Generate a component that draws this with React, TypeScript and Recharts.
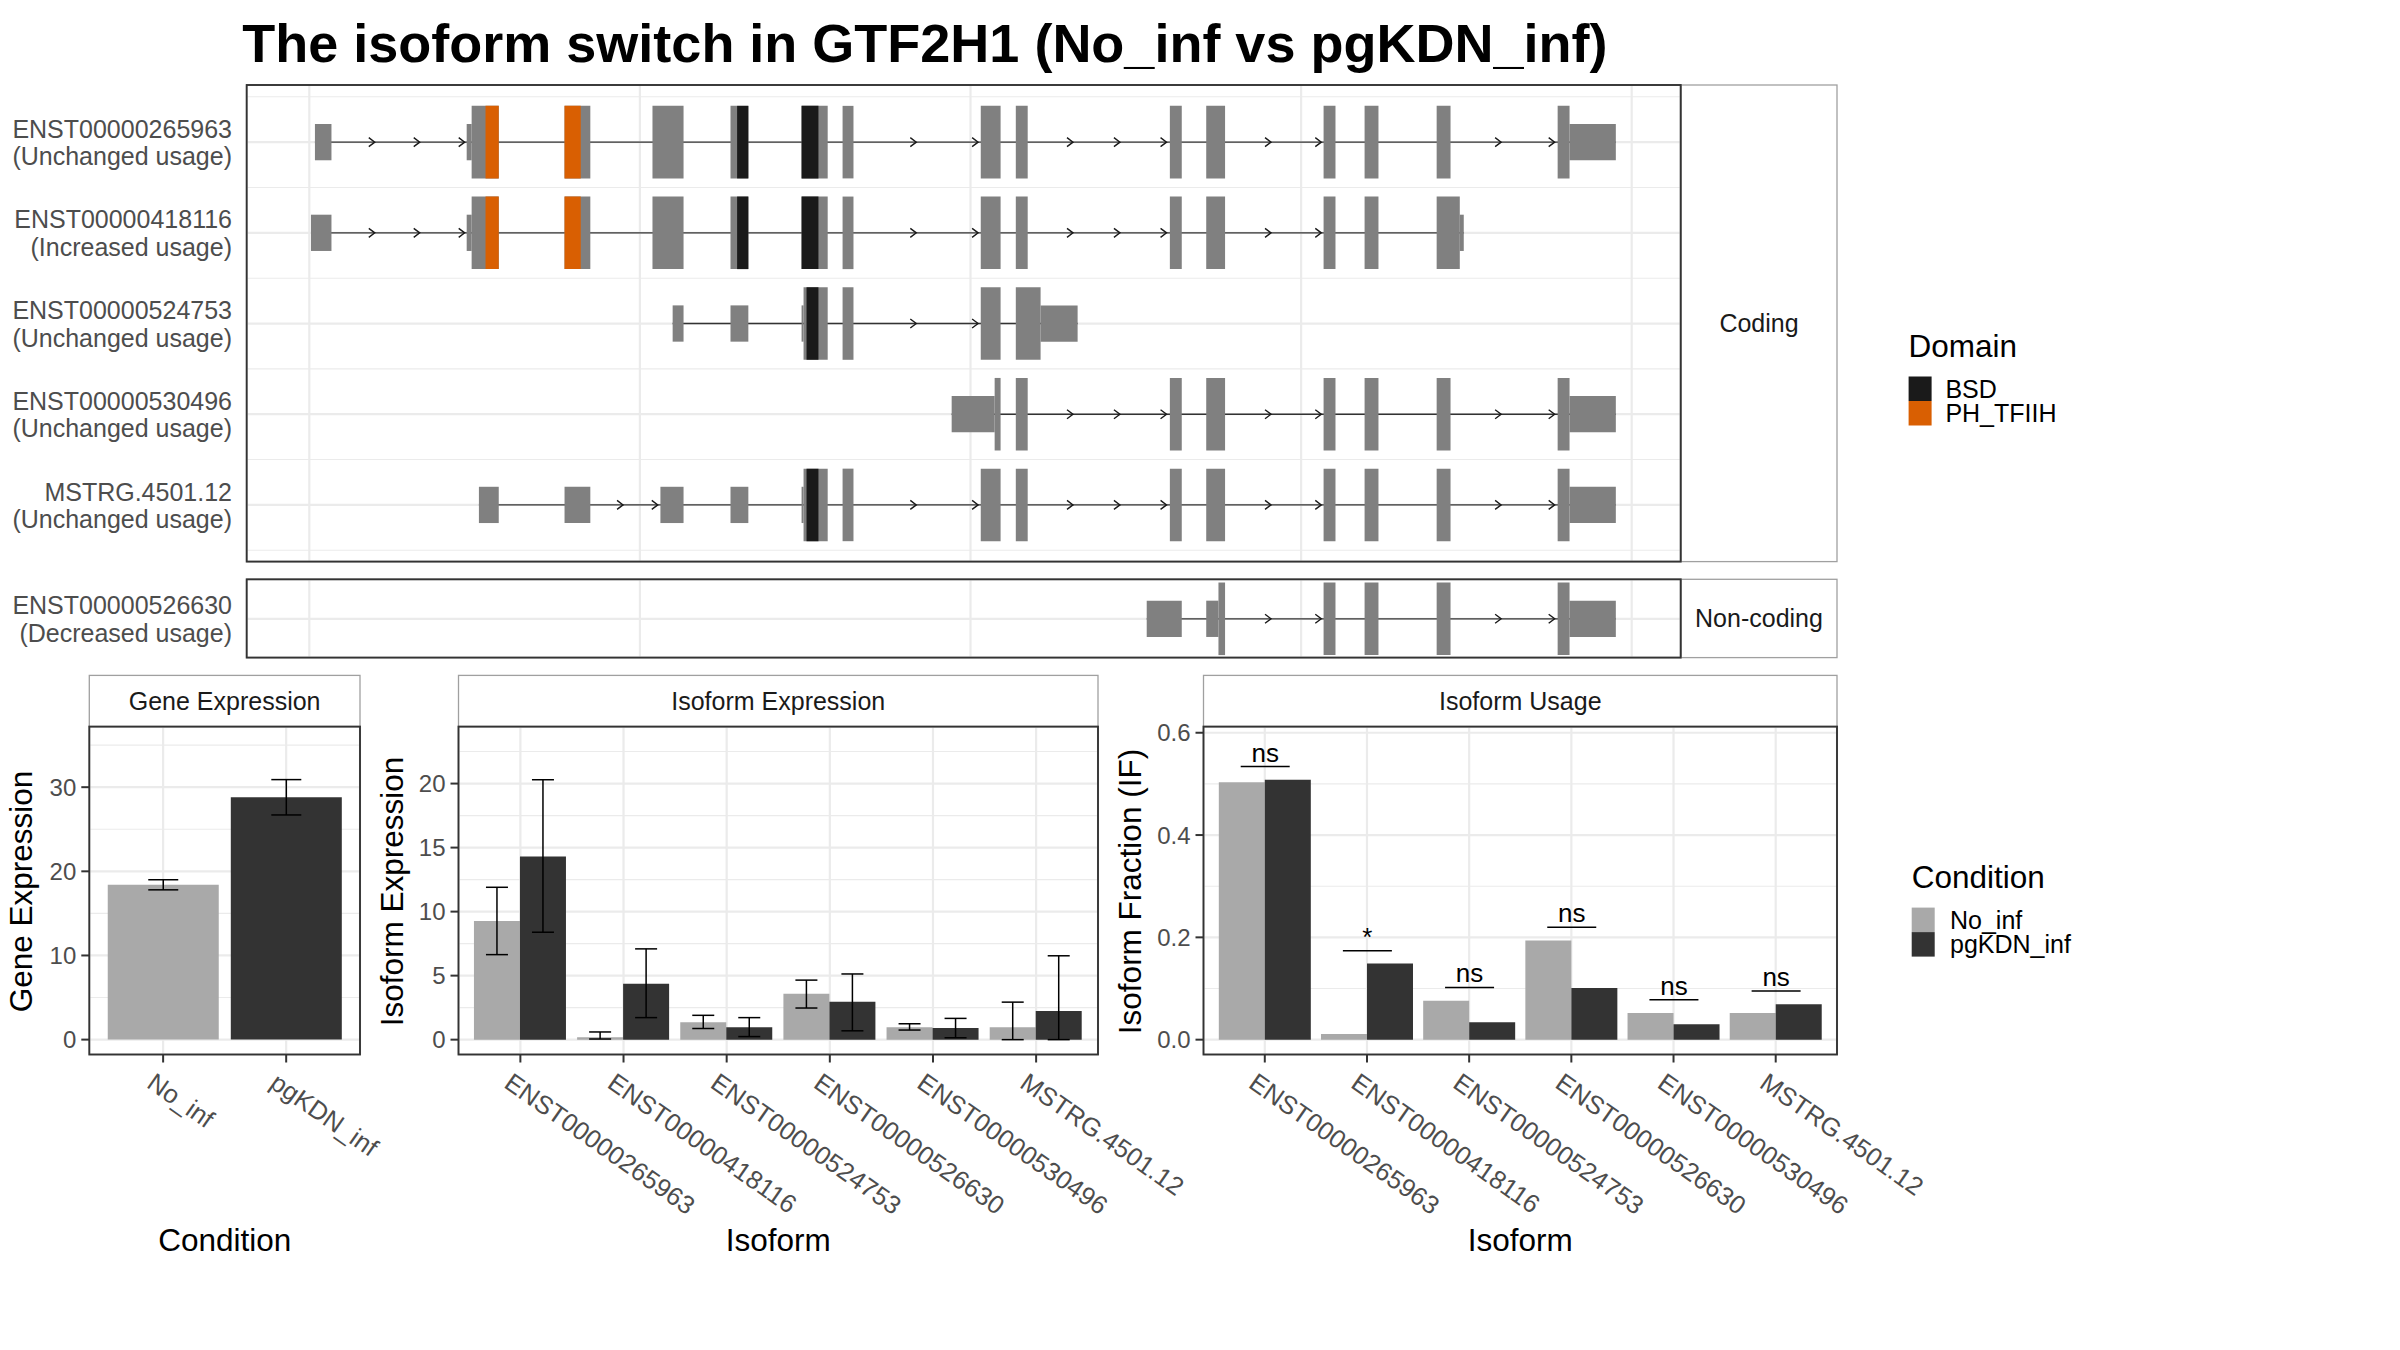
import React from 'react';
import {
  ComposedChart,
  BarChart,
  Bar,
  XAxis,
  YAxis,
  CartesianGrid,
  ReferenceArea,
  Scatter,
  ErrorBar,
  Cell,
} from 'recharts';

const FONT = '"Liberation Sans", Arial, Helvetica, sans-serif';

// ---------- transcript structures (kb from the first gridline) ----------
type Seg = [number, number, string];

const txIds = ['ENST00000265963', 'ENST00000418116', 'ENST00000524753', 'ENST00000530496', 'MSTRG.4501.12'];
const txUsage = ['Unchanged', 'Increased', 'Unchanged', 'Unchanged', 'Unchanged'];
const ncIds = ['ENST00000526630'];
const ncUsage = ['Decreased'];

const exons265963: Seg[] = [
  [0.17, 0.67, 'utr'], [4.76, 4.91, 'utr'], [4.91, 5.73, 'cds'], [7.72, 8.5, 'cds'], [10.38, 11.32, 'cds'],
  [12.74, 13.28, 'cds'], [14.89, 15.68, 'cds'], [16.13, 16.46, 'cds'], [20.31, 20.91, 'cds'], [21.37, 21.73, 'cds'],
  [26.03, 26.39, 'cds'], [27.13, 27.7, 'cds'], [30.68, 31.04, 'cds'], [31.92, 32.34, 'cds'], [34.1, 34.52, 'cds'],
  [37.76, 38.12, 'cds'], [38.12, 39.52, 'utr'],
];
const exons418116: Seg[] = [
  [0.05, 0.67, 'utr'], [4.76, 4.91, 'utr'], [4.91, 5.73, 'cds'], [7.72, 8.5, 'cds'], [10.38, 11.32, 'cds'],
  [12.74, 13.28, 'cds'], [14.89, 15.68, 'cds'], [16.13, 16.46, 'cds'], [20.31, 20.91, 'cds'], [21.37, 21.73, 'cds'],
  [26.03, 26.39, 'cds'], [27.13, 27.7, 'cds'], [30.68, 31.04, 'cds'], [31.92, 32.34, 'cds'], [34.1, 34.8, 'cds'],
  [34.8, 34.92, 'utr'],
];
const exons524753: Seg[] = [
  [10.99, 11.32, 'utr'], [12.74, 13.28, 'utr'], [14.89, 14.95, 'utr'], [14.95, 15.68, 'cds'], [16.13, 16.46, 'cds'],
  [20.31, 20.91, 'cds'], [21.37, 22.12, 'cds'], [22.12, 23.24, 'utr'],
];
const exons530496: Seg[] = [
  [19.43, 20.73, 'utr'], [20.73, 20.91, 'cds'], [21.37, 21.73, 'cds'], [26.03, 26.39, 'cds'], [27.13, 27.7, 'cds'],
  [30.68, 31.04, 'cds'], [31.92, 32.34, 'cds'], [34.1, 34.52, 'cds'], [37.76, 38.12, 'cds'], [38.12, 39.52, 'utr'],
];
const exonsMSTRG: Seg[] = [
  [5.13, 5.73, 'utr'], [7.72, 8.5, 'utr'], [10.62, 11.32, 'utr'], [12.74, 13.28, 'utr'], [14.89, 14.95, 'utr'],
  [14.95, 15.68, 'cds'], [16.13, 16.46, 'cds'], [20.31, 20.91, 'cds'], [21.37, 21.73, 'cds'], [26.03, 26.39, 'cds'],
  [27.13, 27.7, 'cds'], [30.68, 31.04, 'cds'], [31.92, 32.34, 'cds'], [34.1, 34.52, 'cds'], [37.76, 38.12, 'cds'],
  [38.12, 39.52, 'utr'],
];
const exons526630: Seg[] = [
  [25.33, 26.39, 'utr'], [27.13, 27.5, 'utr'], [27.5, 27.7, 'cds'], [30.68, 31.04, 'cds'], [31.92, 32.34, 'cds'],
  [34.1, 34.52, 'cds'], [37.76, 38.12, 'cds'], [38.12, 39.52, 'utr'],
];

const dom265963: Seg[] = [[5.33, 5.73, 'PH_TFIIH'], [7.72, 8.21, 'PH_TFIIH'], [12.94, 13.28, 'BSD'], [14.89, 15.4, 'BSD']];
const dom418116: Seg[] = [[5.33, 5.73, 'PH_TFIIH'], [7.72, 8.21, 'PH_TFIIH'], [12.94, 13.28, 'BSD'], [14.89, 15.4, 'BSD']];
const dom524753: Seg[] = [[15.04, 15.4, 'BSD']];
const dom530496: Seg[] = [];
const domMSTRG: Seg[] = [[15.04, 15.4, 'BSD']];

const arrows265963 = [1.98, 3.34, 4.7, 18.36, 20.23, 23.1, 24.52, 25.93, 29.09, 30.61, 36.05, 37.67];
const arrows418116 = [1.98, 3.34, 4.7, 18.36, 20.23, 23.1, 24.52, 25.93, 29.09, 30.61];
const arrows524753 = [18.36, 20.23];
const arrows530496 = [23.1, 24.52, 25.93, 29.09, 30.61, 36.05, 37.67];
const arrowsMSTRG = [9.49, 10.54, 18.36, 20.23, 23.1, 24.52, 25.93, 29.09, 30.61, 36.05, 37.67];
const arrows526630 = [29.09, 30.61, 36.05, 37.67];

const domainNames = ['BSD', 'PH_TFIIH'];
const domainColors = ['#1A1A1A', '#D95F02'];

const txMajor = [0, 10, 20, 30, 40];
const txMinor = [5, 15, 25, 35];

// ---------- expression / usage ----------
const conditions = ['No_inf', 'pgKDN_inf'];
const conditionColors = ['#A9A9A9', '#333333'];

const geneExpr = [18.4, 28.8];
const geneLow = [17.8, 26.7];
const geneHigh = [19.0, 30.9];
const geneTicks = [0, 10, 20, 30];
const geneMinor = [5, 15, 25, 35];

const isoforms = ['ENST00000265963', 'ENST00000418116', 'ENST00000524753', 'ENST00000526630', 'ENST00000530496', 'MSTRG.4501.12'];
const isoExprNo = [9.26, 0.18, 1.36, 3.59, 0.97, 0.97];
const isoExprNoLow = [6.64, 0.05, 0.87, 2.47, 0.75, 0.0];
const isoExprNoHigh = [11.9, 0.6, 1.9, 4.65, 1.24, 2.93];
const isoExprKd = [14.3, 4.37, 0.97, 2.96, 0.9, 2.23];
const isoExprKdLow = [8.39, 1.72, 0.24, 0.69, 0.15, 0.0];
const isoExprKdHigh = [20.3, 7.09, 1.72, 5.13, 1.66, 6.55];
const isoExprTicks = [0, 5, 10, 15, 20];
const isoExprMinor = [2.5, 7.5, 12.5, 17.5, 22.5];

const isoUsageNo = [0.503, 0.011, 0.076, 0.194, 0.052, 0.052];
const isoUsageKd = [0.508, 0.149, 0.034, 0.101, 0.03, 0.069];
const sigLevel = [0.534, 0.174, 0.102, 0.22, 0.078, 0.095];
const sigLabel = ['ns', '*', 'ns', 'ns', 'ns', 'ns'];
const usageTicks = [0, 0.2, 0.4, 0.6];
const usageMinor = [0.1, 0.3, 0.5];

const geneRows = conditions.map((cond, i) => ({
  cond,
  value: geneExpr[i],
  err: [geneExpr[i] - geneLow[i], geneHigh[i] - geneExpr[i]],
}));
const isoExprRows = isoforms.map((iso, i) => ({
  iso,
  no: isoExprNo[i],
  kd: isoExprKd[i],
  noErr: [isoExprNo[i] - isoExprNoLow[i], isoExprNoHigh[i] - isoExprNo[i]],
  kdErr: [isoExprKd[i] - isoExprKdLow[i], isoExprKdHigh[i] - isoExprKd[i]],
}));
const isoUsageRows = isoforms.map((iso, i) => ({
  iso,
  no: isoUsageNo[i],
  kd: isoUsageKd[i],
  sig: sigLevel[i],
  sigLabel: sigLabel[i],
}));

const GRID = '#EBEBEB';
const yTick = { fontSize: 24, fill: '#4D4D4D', fontFamily: FONT };
const tickLine = { stroke: '#333333', strokeWidth: 2 };

const Chevron = (props: any) => {
  const { cx, cy } = props;
  if (cx == null || cy == null) return <g />;
  return (
    <path
      d={`M${cx - 6},${cy - 4.5}L${cx},${cy}L${cx - 6},${cy + 4.5}`}
      fill="none"
      stroke="#1A1A1A"
      strokeWidth={1.4}
    />
  );
};

const RowLabel = (props: any) => {
  const { x, y, payload, ids, usage } = props;
  const i = Math.round(payload.value) - 1;
  if (!ids[i]) return <g />;
  return (
    <g>
      <text x={x} y={y - 4.4} textAnchor="end" fontSize={25} fill="#4D4D4D" fontFamily={FONT}>
        {ids[i]}
      </text>
      <text x={x} y={y + 23} textAnchor="end" fontSize={25} fill="#4D4D4D" fontFamily={FONT}>
        {`(${usage[i]} usage)`}
      </text>
    </g>
  );
};

const SlantTick = (props: any) => {
  const { x, y, payload } = props;
  return (
    <text
      transform={`translate(${x - 7},${y + 4}) rotate(35)`}
      dy="0.72em"
      textAnchor="start"
      fontSize={25.6}
      fill="#4D4D4D"
      fontFamily={FONT}
    >
      {payload.value}
    </text>
  );
};

const SigMark = (props: any) => {
  const { x, y, width, payload } = props;
  return (
    <g>
      <line x1={x} x2={x + width} y1={y} y2={y} stroke="#000" strokeWidth={1.5} />
      <text x={x + width / 2} y={y - 5} textAnchor="middle" fontSize={26} fontFamily={FONT} fill="#000">
        {payload.sigLabel}
      </text>
    </g>
  );
};

interface TxProps {
  ids: string[];
  usage: string[];
  exons: Seg[][];
  domains: Seg[][];
  arrows: number[][];
  yDomain: [number, number];
  yMinor: number[];
  height: number;
  top: number;
  bottom: number;
}

const X_DOMAIN: [number, number] = [-1.894, 41.482];

const TranscriptPanel = ({ ids, usage, exons, domains, arrows, yDomain, yMinor, height, top, bottom }: TxProps) => {
  const rows = ids.map((_, i) => i + 1);
  const arrowPts = arrows.flatMap((list, i) => list.map((x) => ({ x, y: i + 1 })));
  const minorY = yMinor.length ? yMinor : [yDomain[0]];
  return (
    <ComposedChart width={1690} height={height} margin={{ top, right: 9.3, bottom, left: 0 }}>
      <XAxis xAxisId="minor" type="number" domain={X_DOMAIN} ticks={txMinor} hide allowDataOverflow />
      <YAxis yAxisId="minor" type="number" domain={yDomain} ticks={minorY} hide reversed allowDataOverflow />
      <CartesianGrid
        xAxisId="minor"
        yAxisId="minor"
        stroke={GRID}
        strokeWidth={1.1}
        horizontal={yMinor.length > 0}
      />
      <XAxis dataKey="x" type="number" domain={X_DOMAIN} ticks={txMajor} hide allowDataOverflow />
      <YAxis
        dataKey="y"
        type="number"
        domain={yDomain}
        ticks={rows}
        interval={0}
        reversed
        allowDataOverflow
        width={246.7}
        axisLine={false}
        tickLine={false}
        tickSize={0}
        tickMargin={14.7}
        tick={(p: any) => <RowLabel {...p} ids={ids} usage={usage} />}
      />
      <CartesianGrid stroke={GRID} strokeWidth={2.2} />
      {exons.map((segs, i) => (
        <ReferenceArea
          key={`intron-${i}`}
          x1={Math.min(...segs.map((s) => s[0]))}
          x2={Math.max(...segs.map((s) => s[1]))}
          y1={i + 1 - 0.0075}
          y2={i + 1 + 0.0075}
          fill="#333333"
          fillOpacity={1}
          stroke="none"
        />
      ))}
      {exons.flatMap((segs, i) =>
        segs.map(([s, e, kind], j) => {
          const h = kind === 'cds' ? 0.4 : 0.2;
          return (
            <ReferenceArea
              key={`exon-${i}-${j}`}
              x1={s}
              x2={e}
              y1={i + 1 - h}
              y2={i + 1 + h}
              fill="#808080"
              fillOpacity={1}
              stroke="none"
            />
          );
        }),
      )}
      {domains.flatMap((segs, i) =>
        segs.map(([s, e, name], j) => (
          <ReferenceArea
            key={`dom-${i}-${j}`}
            x1={s}
            x2={e}
            y1={i + 1 - 0.4}
            y2={i + 1 + 0.4}
            fill={domainColors[domainNames.indexOf(name)]}
            fillOpacity={1}
            stroke="none"
          />
        )),
      )}
      <Scatter data={arrowPts} shape={Chevron} isAnimationActive={false} />
    </ComposedChart>
  );
};

const GeneChart = () => (
  <BarChart
    width={520}
    height={540}
    data={geneRows}
    margin={{ top: 6.6, right: 160, bottom: 0, left: 0 }}
    barCategoryGap="5%"
    barGap={0}
  >
    <YAxis yAxisId="minor" type="number" domain={[-1.77, 37.2]} ticks={geneMinor} hide allowDataOverflow />
    <CartesianGrid yAxisId="minor" vertical={false} stroke={GRID} strokeWidth={1.1} />
    <XAxis
      dataKey="cond"
      height={205.5}
      padding={{ left: 12.3, right: 12.3 }}
      interval={0}
      axisLine={false}
      tickLine={tickLine}
      tickSize={8}
      tickMargin={5}
      tick={<SlantTick />}
    />
    <YAxis
      type="number"
      domain={[-1.77, 37.2]}
      ticks={geneTicks}
      interval={0}
      allowDataOverflow
      width={89.3}
      axisLine={false}
      tickLine={tickLine}
      tickSize={8}
      tickMargin={5}
      tick={yTick}
    />
    <CartesianGrid stroke={GRID} strokeWidth={2.2} />
    <Bar dataKey="value" isAnimationActive={false}>
      {geneRows.map((_, i) => (
        <Cell key={i} fill={conditionColors[i]} />
      ))}
      <ErrorBar dataKey="err" width={15} stroke="#000" strokeWidth={1.5} />
    </Bar>
  </BarChart>
);

const IsoExprChart = () => (
  <BarChart
    width={850}
    height={540}
    data={isoExprRows}
    margin={{ top: 6.6, right: 132, bottom: 0, left: 0 }}
    barCategoryGap="5%"
    barGap={0}
  >
    <YAxis yAxisId="minor" type="number" domain={[-1.16, 24.45]} ticks={isoExprMinor} hide allowDataOverflow />
    <CartesianGrid yAxisId="minor" vertical={false} stroke={GRID} strokeWidth={1.1} />
    <XAxis
      dataKey="iso"
      height={205.5}
      padding={{ left: 10.3, right: 10.3 }}
      interval={0}
      axisLine={false}
      tickLine={tickLine}
      tickSize={8}
      tickMargin={5}
      tick={<SlantTick />}
    />
    <YAxis
      type="number"
      domain={[-1.16, 24.45]}
      ticks={isoExprTicks}
      interval={0}
      allowDataOverflow
      width={78.5}
      axisLine={false}
      tickLine={tickLine}
      tickSize={8}
      tickMargin={5}
      tick={yTick}
    />
    <CartesianGrid stroke={GRID} strokeWidth={2.2} />
    <Bar dataKey="no" fill={conditionColors[0]} isAnimationActive={false}>
      <ErrorBar dataKey="noErr" width={11} stroke="#000" strokeWidth={1.5} />
    </Bar>
    <Bar dataKey="kd" fill={conditionColors[1]} isAnimationActive={false}>
      <ErrorBar dataKey="kdErr" width={11} stroke="#000" strokeWidth={1.5} />
    </Bar>
  </BarChart>
);

const IsoUsageChart = () => (
  <BarChart
    width={870}
    height={540}
    data={isoUsageRows}
    margin={{ top: 6.6, right: 143, bottom: 0, left: 0 }}
    barCategoryGap="5%"
    barGap={0}
  >
    <YAxis yAxisId="minor" type="number" domain={[-0.029, 0.612]} ticks={usageMinor} hide allowDataOverflow />
    <CartesianGrid yAxisId="minor" vertical={false} stroke={GRID} strokeWidth={1.1} />
    <XAxis
      dataKey="iso"
      height={205.5}
      padding={{ left: 10.2, right: 10.2 }}
      interval={0}
      axisLine={false}
      tickLine={tickLine}
      tickSize={8}
      tickMargin={5}
      tick={<SlantTick />}
    />
    <XAxis xAxisId="sig" dataKey="iso" hide padding={{ left: 10.2, right: 10.2 }} />
    <YAxis
      type="number"
      domain={[-0.029, 0.612]}
      ticks={usageTicks}
      interval={0}
      allowDataOverflow
      width={93.5}
      axisLine={false}
      tickLine={tickLine}
      tickSize={8}
      tickMargin={5}
      tick={yTick}
      tickFormatter={(v: number) => v.toFixed(1)}
    />
    <CartesianGrid stroke={GRID} strokeWidth={2.2} />
    <Bar dataKey="no" fill={conditionColors[0]} isAnimationActive={false} />
    <Bar dataKey="kd" fill={conditionColors[1]} isAnimationActive={false} />
    <Bar xAxisId="sig" dataKey="sig" barSize={49} shape={SigMark} isAnimationActive={false} />
  </BarChart>
);

const Strip = ({ x, y, w, h, label }: { x: number; y: number; w: number; h: number; label: string }) => (
  <g>
    <rect x={x} y={y} width={w} height={h} fill="#FFFFFF" stroke="#A0A0A0" strokeWidth={1.3} />
    <text x={x + w / 2} y={y + h / 2 + 8.9} textAnchor="middle" fontSize={25} fill="#1A1A1A" fontFamily={FONT}>
      {label}
    </text>
  </g>
);

const Frame = ({ x, y, w, h }: { x: number; y: number; w: number; h: number }) => (
  <rect x={x} y={y} width={w} height={h} fill="none" stroke="#333333" strokeWidth={1.9} />
);

const AxisTitle = ({ x, y, label, vertical }: { x: number; y: number; label: string; vertical?: boolean }) => (
  <text
    x={x}
    y={y}
    textAnchor="middle"
    fontSize={31.5}
    fill="#000"
    fontFamily={FONT}
    transform={vertical ? `rotate(-90 ${x} ${y})` : undefined}
  >
    {label}
  </text>
);

const LegendBlock = ({ x, y, title, labels, colors, labelX }: any) => (
  <g>
    <text x={x} y={y} fontSize={31.5} fill="#000" fontFamily={FONT}>
      {title}
    </text>
    {labels.map((lab: string, i: number) => (
      <g key={lab}>
        <rect x={x} y={y + 19.4 + i * 24.5} width={23} height={24.5} fill={colors[i]} />
        <text x={labelX} y={y + 40.6 + i * 24.5} fontSize={25} fill="#000" fontFamily={FONT}>
          {lab}
        </text>
      </g>
    ))}
  </g>
);

export default function App() {
  return (
    <div
      style={{
        position: 'absolute',
        left: 0,
        top: 0,
        width: 2400,
        height: 1350,
        background: '#FFFFFF',
        fontFamily: FONT,
        overflow: 'hidden',
      }}
    >
      <div style={{ position: 'absolute', left: 0, top: 75 }}>
        <TranscriptPanel
          ids={txIds}
          usage={txUsage}
          exons={[exons265963, exons418116, exons524753, exons530496, exonsMSTRG]}
          domains={[dom265963, dom418116, dom524753, dom530496, domMSTRG]}
          arrows={[arrows265963, arrows418116, arrows524753, arrows530496, arrowsMSTRG]}
          yDomain={[0.37, 5.625]}
          yMinor={[0.5, 1.5, 2.5, 3.5, 4.5, 5.5]}
          height={500}
          top={10}
          bottom={13.4}
        />
      </div>
      <div style={{ position: 'absolute', left: 0, top: 570 }}>
        <TranscriptPanel
          ids={ncIds}
          usage={ncUsage}
          exons={[exons526630]}
          domains={[[]]}
          arrows={[arrows526630]}
          yDomain={[0.5645, 1.4275]}
          yMinor={[]}
          height={100}
          top={9.3}
          bottom={12.4}
        />
      </div>
      <div style={{ position: 'absolute', left: 0, top: 720 }}>
        <GeneChart />
      </div>
      <div style={{ position: 'absolute', left: 380, top: 720 }}>
        <IsoExprChart />
      </div>
      <div style={{ position: 'absolute', left: 1110, top: 720 }}>
        <IsoUsageChart />
      </div>

      <svg width={2400} height={1350} style={{ position: 'absolute', left: 0, top: 0, pointerEvents: 'none' }}>
        <text x={242.3} y={62} fontSize={54} fontWeight="bold" fill="#000" fontFamily={FONT}>
          The isoform switch in GTF2H1 (No_inf vs pgKDN_inf)
        </text>

        <Strip x={1681} y={85} w={156} h={476.6} label="Coding" />
        <Strip x={1681} y={579.3} w={156} h={78.3} label="Non-coding" />
        <Strip x={89.3} y={675.4} w={270.7} h={51.2} label="Gene Expression" />
        <Strip x={458.5} y={675.4} w={639.5} h={51.2} label="Isoform Expression" />
        <Strip x={1203.5} y={675.4} w={633.5} h={51.2} label="Isoform Usage" />

        <Frame x={246.7} y={85} w={1434} h={476.6} />
        <Frame x={246.7} y={579.3} w={1434} h={78.3} />
        <Frame x={89.3} y={726.6} w={270.7} h={327.9} />
        <Frame x={458.5} y={726.6} w={639.5} h={327.9} />
        <Frame x={1203.5} y={726.6} w={633.5} h={327.9} />

        <AxisTitle x={224.7} y={1251.4} label="Condition" />
        <AxisTitle x={778.3} y={1251.4} label="Isoform" />
        <AxisTitle x={1520.3} y={1251.4} label="Isoform" />
        <AxisTitle x={31.9} y={891.5} label="Gene Expression" vertical />
        <AxisTitle x={402.7} y={891.5} label="Isoform Expression" vertical />
        <AxisTitle x={1140.6} y={891.5} label="Isoform Fraction (IF)" vertical />

        <LegendBlock x={1908.6} y={357.1} title="Domain" labels={domainNames} colors={domainColors} labelX={1945.4} />
        <LegendBlock x={1911.7} y={888.2} title="Condition" labels={conditions} colors={conditionColors} labelX={1950} />
      </svg>
    </div>
  );
}
